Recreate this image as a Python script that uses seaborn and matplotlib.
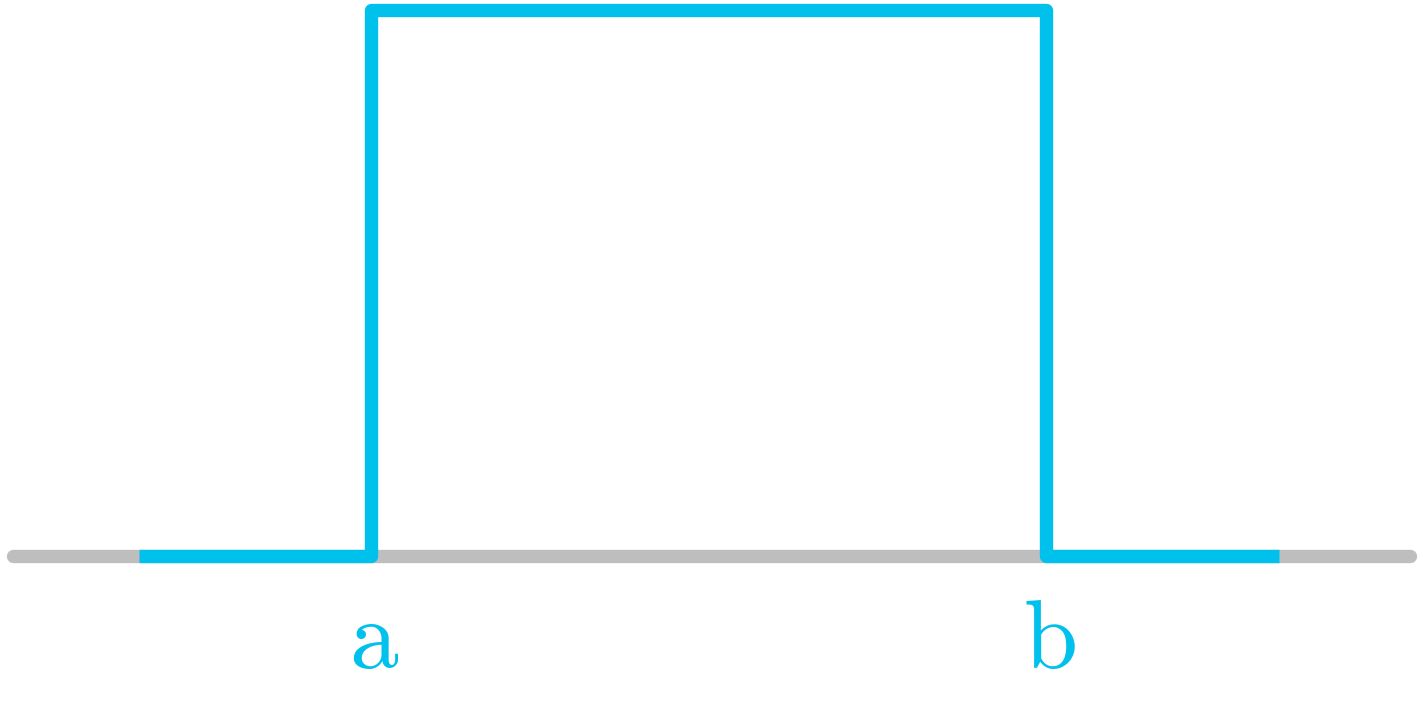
import matplotlib
matplotlib.use("Agg")
import matplotlib.pyplot as plt
import seaborn as sns
import numpy as np

# uniform density sketch: interval [a, b]
a = 1.0
b = 3.0
height = 1.0
x_start = 0.315
x_end = 3.688
axis_range = [-0.059, 4.077]
labels = ["a", "b"]

blue = "#00C0EC"
gray = "#BEBEBE"

sns.set_theme(style="white")
plt.rcParams["mathtext.fontset"] = "cm"

fig = plt.figure(figsize=(14.23, 7.22), dpi=100)
ax = fig.add_axes([0, 0, 1, 1])

# gray baseline
ax.plot(axis_range, [0, 0], color=gray, lw=9.6, solid_capstyle="round", zorder=1)

# step-shaped density
xs = [x_start, a, a, b, b, x_end]
ys = [0, 0, height, height, 0, 0]
sns.lineplot(x=xs, y=ys, sort=False, estimator=None, ax=ax, color=blue, lw=9.6, zorder=2)
for ln in ax.lines[1:]:
    ln.set_solid_joinstyle("round")
    ln.set_solid_capstyle("butt")

for pos, lab in zip([a, b], labels):
    ax.text(pos + 0.01, -0.204, r"$\mathrm{%s}$" % lab, color=blue, fontsize=70,
            ha="center", va="baseline")

ax.set_xlim(-0.0962, 4.114)
ax.set_ylim(-0.3026, 1.0174)
ax.set_axis_off()

fig.savefig("out.png", dpi=100)
